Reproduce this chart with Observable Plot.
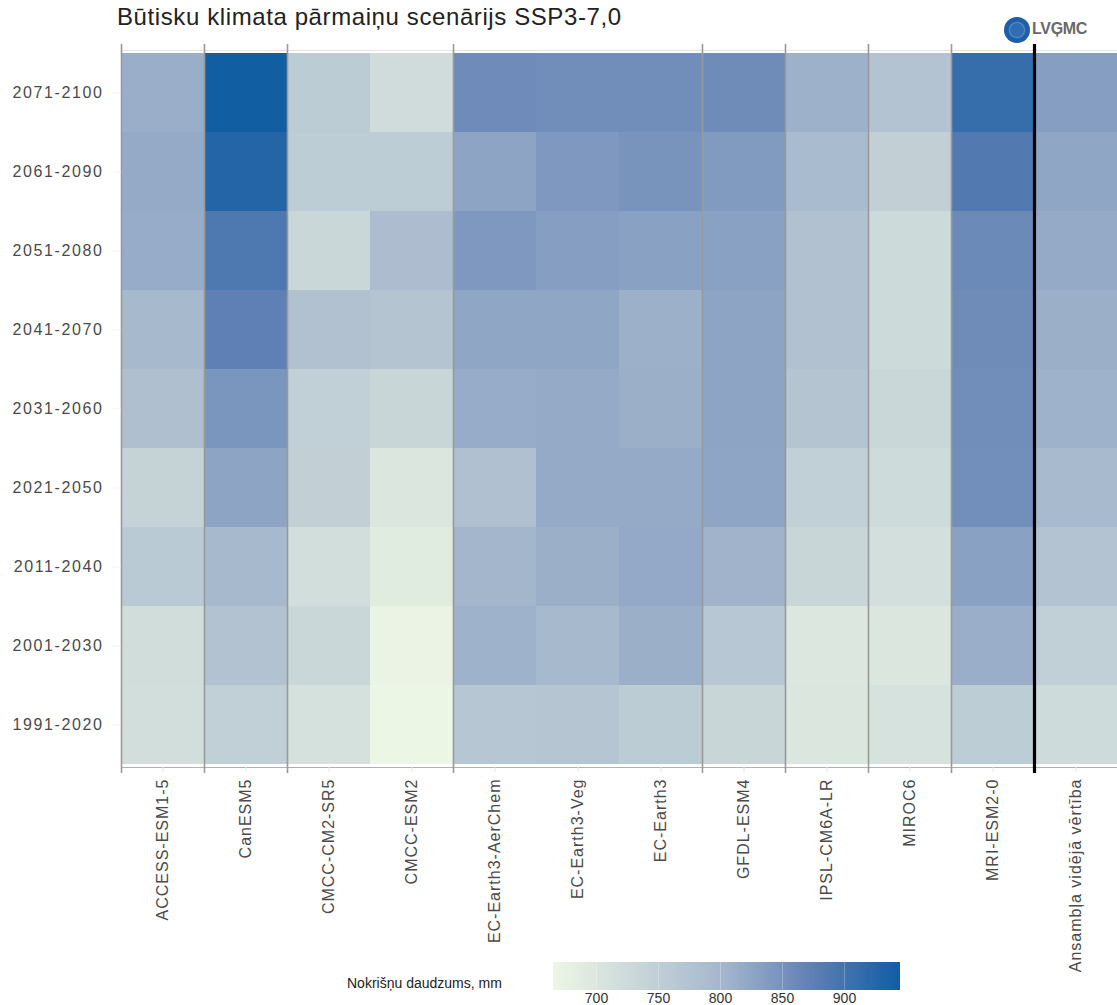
<!DOCTYPE html>
<html lang="lv">
<head>
<meta charset="utf-8">
<script src="https://cdn.jsdelivr.net/npm/d3@7"></script>
<script src="https://cdn.jsdelivr.net/npm/@observablehq/plot@0.6"></script>
<style>
  html, body { margin: 0; padding: 0; background: #fff; }
  #wrap { position: relative; width: 1117px; height: 1005px; overflow: hidden; font-family: "Liberation Sans", Arial, sans-serif; }
  #title { position: absolute; left: 117px; top: 3px; font-size: 24px; letter-spacing: 0.6px; color: #222; white-space: nowrap; }
  #logo { position: absolute; left: 1004px; top: 17px; width: 26px; height: 26px; border-radius: 50%;
          background: radial-gradient(circle, #2e6db3 0 35%, #5a8cc7 40%, #1f5ea8 48%, #1a5aa5 100%); }
  #logotext { position: absolute; left: 1032px; top: 20px; font-size: 16px; font-weight: bold; color: #6a6a6a; letter-spacing: -0.3px; }
  #chart { position: absolute; left: 0; top: 0; }
  #leglabel { position: absolute; left: 347px; top: 975px; font-size: 14px; color: #222; white-space: nowrap; }
  #legend { position: absolute; left: 553px; top: 960px; }
  #legend svg line { stroke: #fff; stroke-opacity: 0.25; }
  svg { background: transparent !important; }
  .xax text { letter-spacing: 1px; }
  .yax text { letter-spacing: 1.6px; }
</style>
</head>
<body>
<div id="wrap">
  <div id="chart"></div>
  <div id="title">Būtisku klimata pārmaiņu scenārijs SSP3-7,0</div>
  <div id="logo"></div>
  <div id="logotext">LVĢMC</div>
  <div id="leglabel">Nokrišņu daudzums, mm</div>
  <div id="legend"></div>
</div>
<script>
// Periods, top row first
const periods = ["2071-2100","2061-2090","2051-2080","2041-2070","2031-2060","2021-2050","2011-2040","2001-2030","1991-2020"];
const models = ["ACCESS-ESM1-5","CanESM5","CMCC-CM2-SR5","CMCC-ESM2","EC-Earth3-AerChem","EC-Earth3-Veg","EC-Earth3","GFDL-ESM4","IPSL-CM6A-LR","MIROC6","MRI-ESM2-0","Ansambļa vidējā vērtība"];

// Precipitation (mm) per model, in the order of `periods`
const accessEsm15   = [814, 820, 817, 797, 783, 741, 761, 719, 717];
const canEsm5       = [944, 929, 891, 876, 846, 828, 797, 777, 749];
const cmccCm2Sr5    = [757, 755, 733, 779, 749, 747, 717, 733, 711];
const cmccEsm2      = [721, 755, 787, 773, 735, 701, 687, 671, 666];
const ecEarth3Aer   = [860, 827, 843, 825, 817, 781, 803, 809, 769];
const ecEarth3Veg   = [856, 843, 836, 825, 820, 819, 813, 797, 771];
const ecEarth3      = [856, 849, 832, 812, 813, 819, 821, 813, 757];
const gfdlEsm4      = [859, 840, 832, 828, 828, 826, 807, 767, 735];
const ipslCm6aLr    = [810, 793, 779, 779, 773, 749, 735, 697, 699];
const miroc6        = [775, 747, 727, 727, 733, 725, 715, 701, 709];
const mriEsm20      = [912, 887, 862, 859, 856, 855, 832, 814, 755];
const ensembleMean  = [836, 825, 820, 813, 809, 795, 775, 749, 725];

const series = [accessEsm15, canEsm5, cmccCm2Sr5, cmccEsm2, ecEarth3Aer, ecEarth3Veg, ecEarth3, gfdlEsm4, ipslCm6aLr, miroc6, mriEsm20, ensembleMean];

// Group separators (drawn at the left edge of these columns)
const groupStarts = ["ACCESS-ESM1-5","CanESM5","CMCC-CM2-SR5","EC-Earth3-AerChem","GFDL-ESM4","IPSL-CM6A-LR","MIROC6","MRI-ESM2-0"];
const ensembleStart = ["Ansambļa vidējā vērtība"];

// Colour scale
const colorDomain = [665, 735, 805, 875, 945];
const colorRange = ["#edf6e5", "#c8d6d8", "#a3b5cc", "#5f80b4", "#115da3"];
const legendTicks = [700, 750, 800, 850, 900];

const table = models.flatMap((m, i) => periods.map((p, j) => ({model: m, period: p, value: series[i][j]})));

const W = 1117, H = 1005, mL = 121, mR = 0, mT = 50, mB = 238;
const halfBand = (W - mL - mR) / models.length / 2;

const colorOpts = {type: "linear", domain: colorDomain, range: colorRange};

const chart = Plot.plot({
  width: W, height: H,
  marginLeft: mL, marginRight: mR, marginTop: mT, marginBottom: mB,
  style: {fontFamily: "Liberation Sans, Arial, sans-serif", background: "transparent"},
  x: {domain: models, padding: 0, label: null},
  y: {domain: periods, padding: 0, label: null},
  color: colorOpts,
  marks: [
    Plot.cell(table, {x: "model", y: "period", fill: "value", inset: 0, shapeRendering: "crispEdges"}),
    Plot.frame({anchor: "top", stroke: "#e4e4e4"}),
    Plot.frame({anchor: "bottom", stroke: "#b0b0b0"}),
    Plot.ruleX(groupStarts, {x: d => d, dx: -halfBand, stroke: "#999", strokeWidth: 1.6, insetTop: -6, insetBottom: -6}),
    Plot.ruleX(ensembleStart, {x: d => d, dx: -halfBand, stroke: "#000", strokeWidth: 3.2, insetTop: -6, insetBottom: -6}),
    Plot.axisX({anchor: "bottom", tickRotate: -90, tickSize: 5, tickPadding: 6, stroke: "#e8e8e8", fill: "#4a4a4a", fontSize: 16, label: null, className: "xax"}),
    Plot.axisY({anchor: "left", tickSize: 8, tickPadding: 10, stroke: "#f2f2f2", fill: "#4a4a4a", fontSize: 16, label: null, className: "yax"})
  ]
});
document.getElementById("chart").appendChild(chart);

const legend = Plot.legend({
  color: colorOpts,
  legend: "ramp",
  width: 347, height: 48, marginTop: 2, marginBottom: 18, marginLeft: 0, marginRight: 0,
  ticks: legendTicks, tickSize: 0, label: null,
  style: {fontFamily: "Liberation Sans, Arial, sans-serif", fontSize: "14px", color: "#333", background: "transparent"}
});
document.getElementById("legend").appendChild(legend);
</script>
</body>
</html>
